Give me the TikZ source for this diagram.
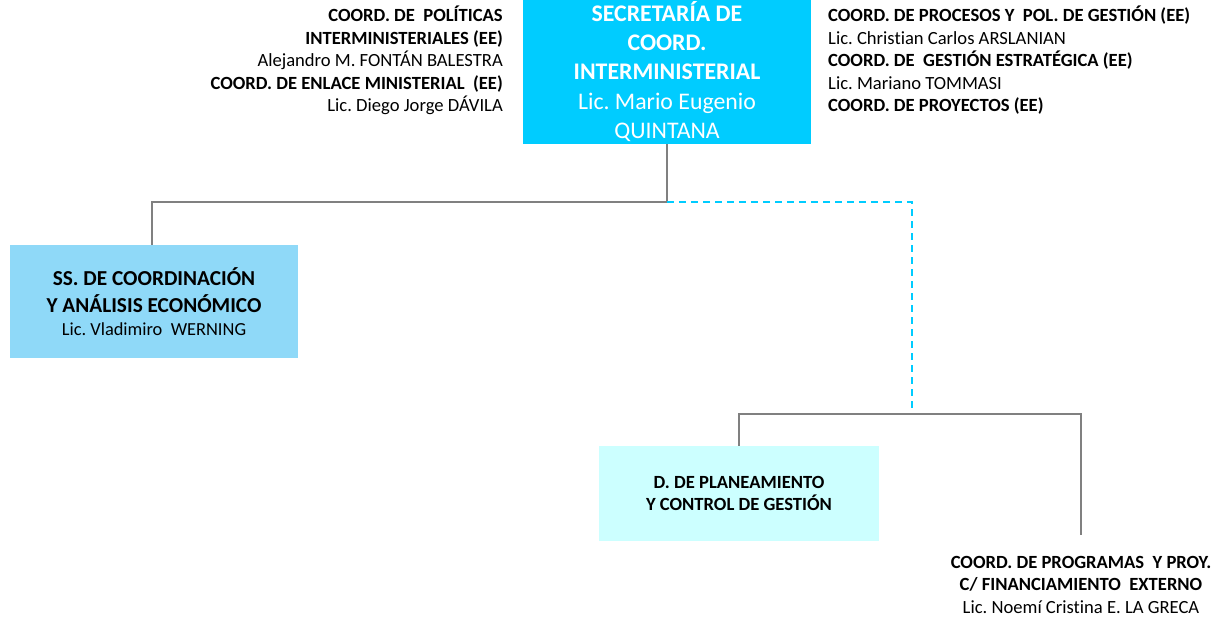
\documentclass[tikz,border=0pt]{standalone}
\usepackage{fontspec}
\setmainfont{Carlito}[Ligatures=NoCommon]
\frenchspacing
\definecolor{maincyan}{HTML}{00CCFF}
\definecolor{sscyan}{HTML}{8FD9F8}
\definecolor{dcyan}{HTML}{CCFFFF}
\definecolor{linegray}{HTML}{808080}
\newcommand{\dsp}{\ \ }
\begin{document}
\begin{tikzpicture}[x=1pt,y=-1pt,
  box/.style={inner sep=0pt, align=center, text=black},
  sidetext/.style={inner sep=0pt, font=\fontsize{18.6}{22.5}\selectfont},
  conn/.style={draw=linegray, line width=1.6pt},
  dashconn/.style={draw=maincyan, line width=1.6pt, dash pattern=on 7pt off 5pt}]
\useasboundingbox (0,0) rectangle (1221,618);

% top box
\node[box, fill=maincyan, text=white, minimum width=288pt, minimum height=145pt,
      font=\fontsize{23.8}{29.3}\selectfont] (sec) at (667,71.5)
  {\textbf{SECRETARÍA DE}\\\textbf{COORD.}\\\textbf{INTERMINISTERIAL}\\Lic. Mario Eugenio\\QUINTANA};

% left text block
\node[sidetext, align=right, anchor=north east] (left) at (503,6)
  {\textbf{COORD. DE\dsp POLÍTICAS}\\\textbf{INTERMINISTERIALES (EE)}\\Alejandro M. FONTÁN BALESTRA\\\textbf{COORD. DE ENLACE MINISTERIAL\dsp (EE)}\\Lic. Diego Jorge DÁVILA};

% right text block
\node[sidetext, align=left, anchor=north west] (right) at (828,6)
  {\textbf{COORD. DE PROCESOS Y\dsp POL. DE GESTIÓN (EE)}\\Lic. Christian Carlos ARSLANIAN\\\textbf{COORD. DE\dsp GESTIÓN ESTRATÉGICA (EE)}\\Lic. Mariano TOMMASI\\\textbf{COORD. DE PROYECTOS (EE)}};

% SS box
\node[box, fill=sscyan, minimum width=288pt, minimum height=113pt,
      font=\fontsize{21.3}{27}\selectfont] (ss) at (154,301.5)
  {\textbf{SS. DE COORDINACIÓN}\\\textbf{Y ANÁLISIS ECONÓMICO}\\[-4pt]{\fontsize{18.4}{22}\selectfont Lic. Vladimiro\dsp WERNING}};

% D box
\node[box, fill=dcyan, minimum width=280pt, minimum height=95pt,
      font=\fontsize{18.6}{22}\selectfont] (dp) at (739,493.5)
  {\textbf{D. DE PLANEAMIENTO}\\\textbf{Y CONTROL DE GESTIÓN}};

% bottom right text
\node[sidetext, align=center, anchor=north] (prog) at (1081,556)
  {\textbf{COORD. DE PROGRAMAS\dsp Y PROY.}\\\textbf{C/ FINANCIAMIENTO\dsp EXTERNO}\\Lic. Noemí Cristina E. LA GRECA};

% junctions
\coordinate (j1) at (667,202);
\coordinate (jl) at (152,202);
\coordinate (jr) at (912,202);
\coordinate (jd) at (912,414);
\coordinate (ja) at (739,414);
\coordinate (jb) at (1081,414);
\coordinate (pend) at (1081,535);

\draw[conn] (sec.south) -- (j1) -- (jl) -- (jl |- ss.north);
\draw[dashconn] (j1) -- (jr) -- (jd);
\draw[conn] (ja |- dp.north) -- (ja) -- (jb) -- (pend);
\end{tikzpicture}
\end{document}
